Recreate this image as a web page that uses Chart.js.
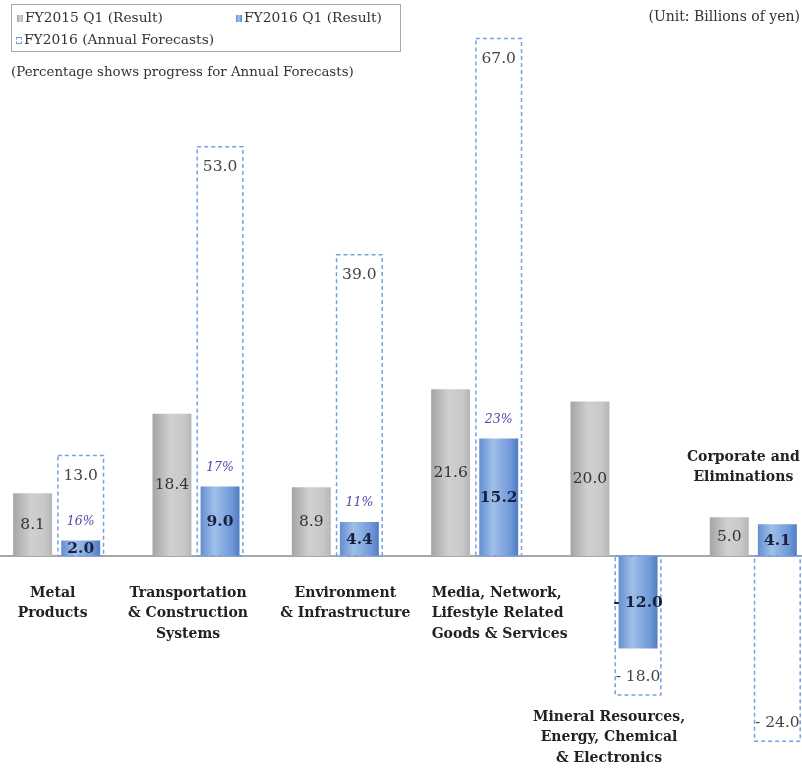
<!DOCTYPE html>
<html>
<head>
<meta charset="utf-8">
<script src="https://cdn.jsdelivr.net/npm/chart.js@4.4.1/dist/chart.umd.min.js"></script>
<style>
  html, body { margin: 0; padding: 0; background: #fff; overflow: hidden; }
  body { width: 802px; height: 769px; position: relative; font-family: "DejaVu Serif", serif; color: #333; }
  #chartWrap { position: absolute; left: -13px; top: 0; width: 836px; height: 769px; }
  .legend { position: absolute; left: 11px; top: 4px; width: 388px; height: 46px; border: 1px solid #a8a8a8; font-size: 13.8px; color: #333; }
  .legend .item { position: absolute; white-space: nowrap; line-height: 16px; }
  .legend .sw { display: inline-block; width: 6px; height: 7px; margin-right: 2px; vertical-align: 0px; }
  .sw.prev { background: linear-gradient(90deg, #9c9c9c, #d6d6d6, #b0b0b0); }
  .sw.cur { background: linear-gradient(90deg, #5f8fd6, #a9c6ee, #4d7fcb); }
  .sw.fc { border: 1px dashed #6f9ae0; width: 4px; height: 5px; }
  .note { position: absolute; font-size: 13.4px; color: #333; white-space: nowrap; line-height: 16px; }
</style>
</head>
<body>
<div id="chartWrap"><canvas id="resultChart" width="836" height="769"></canvas></div>

<div class="legend">
  <div class="item" style="left:5px; top:4px;"><span class="sw prev"></span>FY2015 Q1 (Result)</div>
  <div class="item" style="left:224px; top:4px;"><span class="sw cur"></span>FY2016 Q1 (Result)</div>
  <div class="item" style="left:4px; top:26px;"><span class="sw fc"></span>FY2016 (Annual Forecasts)</div>
</div>
<div class="note" style="right:2px; top:8px; font-size:14px;">(Unit: Billions of yen)</div>
<div class="note" style="left:11px; top:64px;">(Percentage shows progress for Annual Forecasts)</div>

<script>
const categories = [
  ["Metal", "Products"],
  ["Transportation", "& Construction", "Systems"],
  ["Environment", "& Infrastructure"],
  ["Media, Network,", "Lifestyle Related", "Goods & Services"],
  ["Mineral Resources,", "Energy, Chemical", "& Electronics"],
  ["Corporate and", "Eliminations"],
];
const fy2015Q1 = [8.1, 18.4, 8.9, 21.6, 20.0, 5.0];
const fy2016Q1 = [2.0, 9.0, 4.4, 15.2, -12.0, 4.1];
const fy2016Forecast = [13.0, 53.0, 39.0, 67.0, -18.0, -24.0];
const progress = ["16%", "17%", "11%", "23%", null, null];

// where each category caption sits relative to its slot and the zero line
const captionPos = [
  { dx: -4, dy: 37, align: "center" },
  { dx: -8, dy: 37, align: "center" },
  { dx: 10, dy: 37, align: "center" },
  { dx: -43, dy: 37, align: "left" },
  { dx: -5, dy: 161, align: "center" },
  { dx: -10, dy: -99, align: "center" },
];

const CAT_PCT = 0.69;
const GRAY_PCT = 0.81;
const BLUE_PCT = 0.81;
const BOX_PCT = 0.95;

function fmt(v) {
  return v < 0 ? "- " + Math.abs(v).toFixed(1) : v.toFixed(1);
}

// horizontal gradient across one bar; side -1 = left slot, +1 = right slot
function barGradient(stops, side, pct) {
  return function (context) {
    const chart = context.chart;
    const area = chart.chartArea;
    if (!area || context.type !== "data") {
      return stops[1][1];
    }
    const slot = (area.width / categories.length) * CAT_PCT / 2;
    const center = chart.scales.x.getPixelForValue(context.dataIndex) + side * slot / 2;
    const half = slot * pct / 2;
    const g = chart.ctx.createLinearGradient(center - half, 0, center + half, 0);
    stops.forEach(function (s) { g.addColorStop(s[0], s[1]); });
    return g;
  };
}

const grayStops = [[0, "#a4a4a4"], [0.45, "#d0d0d0"], [0.8, "#c8c8c8"], [1, "#b6b6b6"]];
const blueStops = [[0, "#628fd2"], [0.35, "#a0bfe9"], [0.8, "#7199d9"], [1, "#4f7cc2"]];

const zeroLine = {
  id: "zeroLine",
  beforeDatasetsDraw(chart) {
    const ctx = chart.ctx;
    const y = chart.scales.y.getPixelForValue(0);
    ctx.save();
    ctx.strokeStyle = "#8a8a8a";
    ctx.lineWidth = 1.5;
    ctx.beginPath();
    ctx.moveTo(0, y);
    ctx.lineTo(chart.width, y);
    ctx.stroke();
    ctx.restore();
  },
};

const forecastBoxes = {
  id: "forecastBoxes",
  afterDatasetsDraw(chart) {
    const ctx = chart.ctx;
    const meta = chart.getDatasetMeta(1);
    ctx.save();
    ctx.strokeStyle = "#76a0e2";
    ctx.lineWidth = 1.5;
    ctx.setLineDash([4, 3]);
    meta.data.forEach(function (bar) {
      const p = bar.getProps(["x", "y", "base", "width"], true);
      const top = Math.min(p.y, p.base);
      const h = Math.abs(p.base - p.y);
      ctx.strokeRect(p.x - p.width / 2, top, p.width, h);
    });
    ctx.restore();
  },
};

const valueLabels = {
  id: "valueLabels",
  afterDatasetsDraw(chart) {
    const ctx = chart.ctx;
    ctx.save();
    ctx.textAlign = "center";
    ctx.textBaseline = "middle";

    chart.getDatasetMeta(0).data.forEach(function (bar, i) {
      const p = bar.getProps(["x", "y", "base"], true);
      ctx.font = "15.5px 'DejaVu Serif'";
      ctx.fillStyle = "#333";
      ctx.fillText(fmt(fy2015Q1[i]), p.x, (p.y + p.base) / 2);
    });

    chart.getDatasetMeta(1).data.forEach(function (bar, i) {
      const p = bar.getProps(["x", "y", "base"], true);
      ctx.font = "15.5px 'DejaVu Serif'";
      ctx.fillStyle = "#444";
      const y = fy2016Forecast[i] >= 0 ? p.y + 20 : p.y - 18;
      ctx.fillText(fmt(fy2016Forecast[i]), p.x, y);
    });

    chart.getDatasetMeta(2).data.forEach(function (bar, i) {
      const p = bar.getProps(["x", "y", "base"], true);
      ctx.font = "bold 15.5px 'DejaVu Serif'";
      ctx.fillStyle = "#16223f";
      ctx.fillText(fmt(fy2016Q1[i]), p.x, (p.y + p.base) / 2 + 1);
      if (progress[i]) {
        ctx.font = "italic 12.5px 'DejaVu Serif'";
        ctx.fillStyle = "#4d48a8";
        ctx.fillText(progress[i], p.x, Math.min(p.y, p.base) - 19);
      }
    });
    ctx.restore();
  },
};

const captions = {
  id: "captions",
  afterDraw(chart) {
    const ctx = chart.ctx;
    const x = chart.scales.x;
    const zero = chart.scales.y.getPixelForValue(0);
    ctx.save();
    ctx.font = "bold 14px 'DejaVu Serif'";
    ctx.fillStyle = "#222";
    ctx.textBaseline = "middle";
    categories.forEach(function (lines, i) {
      const pos = captionPos[i];
      ctx.textAlign = pos.align;
      const cx = x.getPixelForValue(i) + pos.dx;
      lines.forEach(function (line, j) {
        ctx.fillText(line, cx, zero + pos.dy + j * 20.5);
      });
    });
    ctx.restore();
  },
};

new Chart(document.getElementById("resultChart"), {
  type: "bar",
  data: {
    labels: categories.map(function (c) { return c.join(" "); }),
    datasets: [
      {
        label: "FY2015 Q1 (Result)",
        data: fy2015Q1,
        stack: "prev",
        backgroundColor: barGradient(grayStops, -1, GRAY_PCT),
        barPercentage: GRAY_PCT,
        categoryPercentage: CAT_PCT,
        borderWidth: 0,
      },
      {
        label: "FY2016 (Annual Forecasts)",
        data: fy2016Forecast,
        stack: "cur",
        backgroundColor: "rgba(0,0,0,0)",
        barPercentage: BOX_PCT,
        categoryPercentage: CAT_PCT,
        borderWidth: 0,
      },
      {
        label: "FY2016 Q1 (Result)",
        data: fy2016Q1,
        stack: "cur",
        backgroundColor: barGradient(blueStops, 1, BLUE_PCT),
        barPercentage: BLUE_PCT,
        categoryPercentage: CAT_PCT,
        borderWidth: 0,
      },
    ],
  },
  options: {
    responsive: false,
    animation: false,
    layout: { padding: 0 },
    plugins: {
      legend: { display: false },
      tooltip: { enabled: false },
    },
    scales: {
      x: { display: false, offset: true },
      y: { display: false, stacked: false, min: -27.6, max: 72.0 },
    },
  },
  plugins: [zeroLine, forecastBoxes, valueLabels, captions],
});
</script>
</body>
</html>
